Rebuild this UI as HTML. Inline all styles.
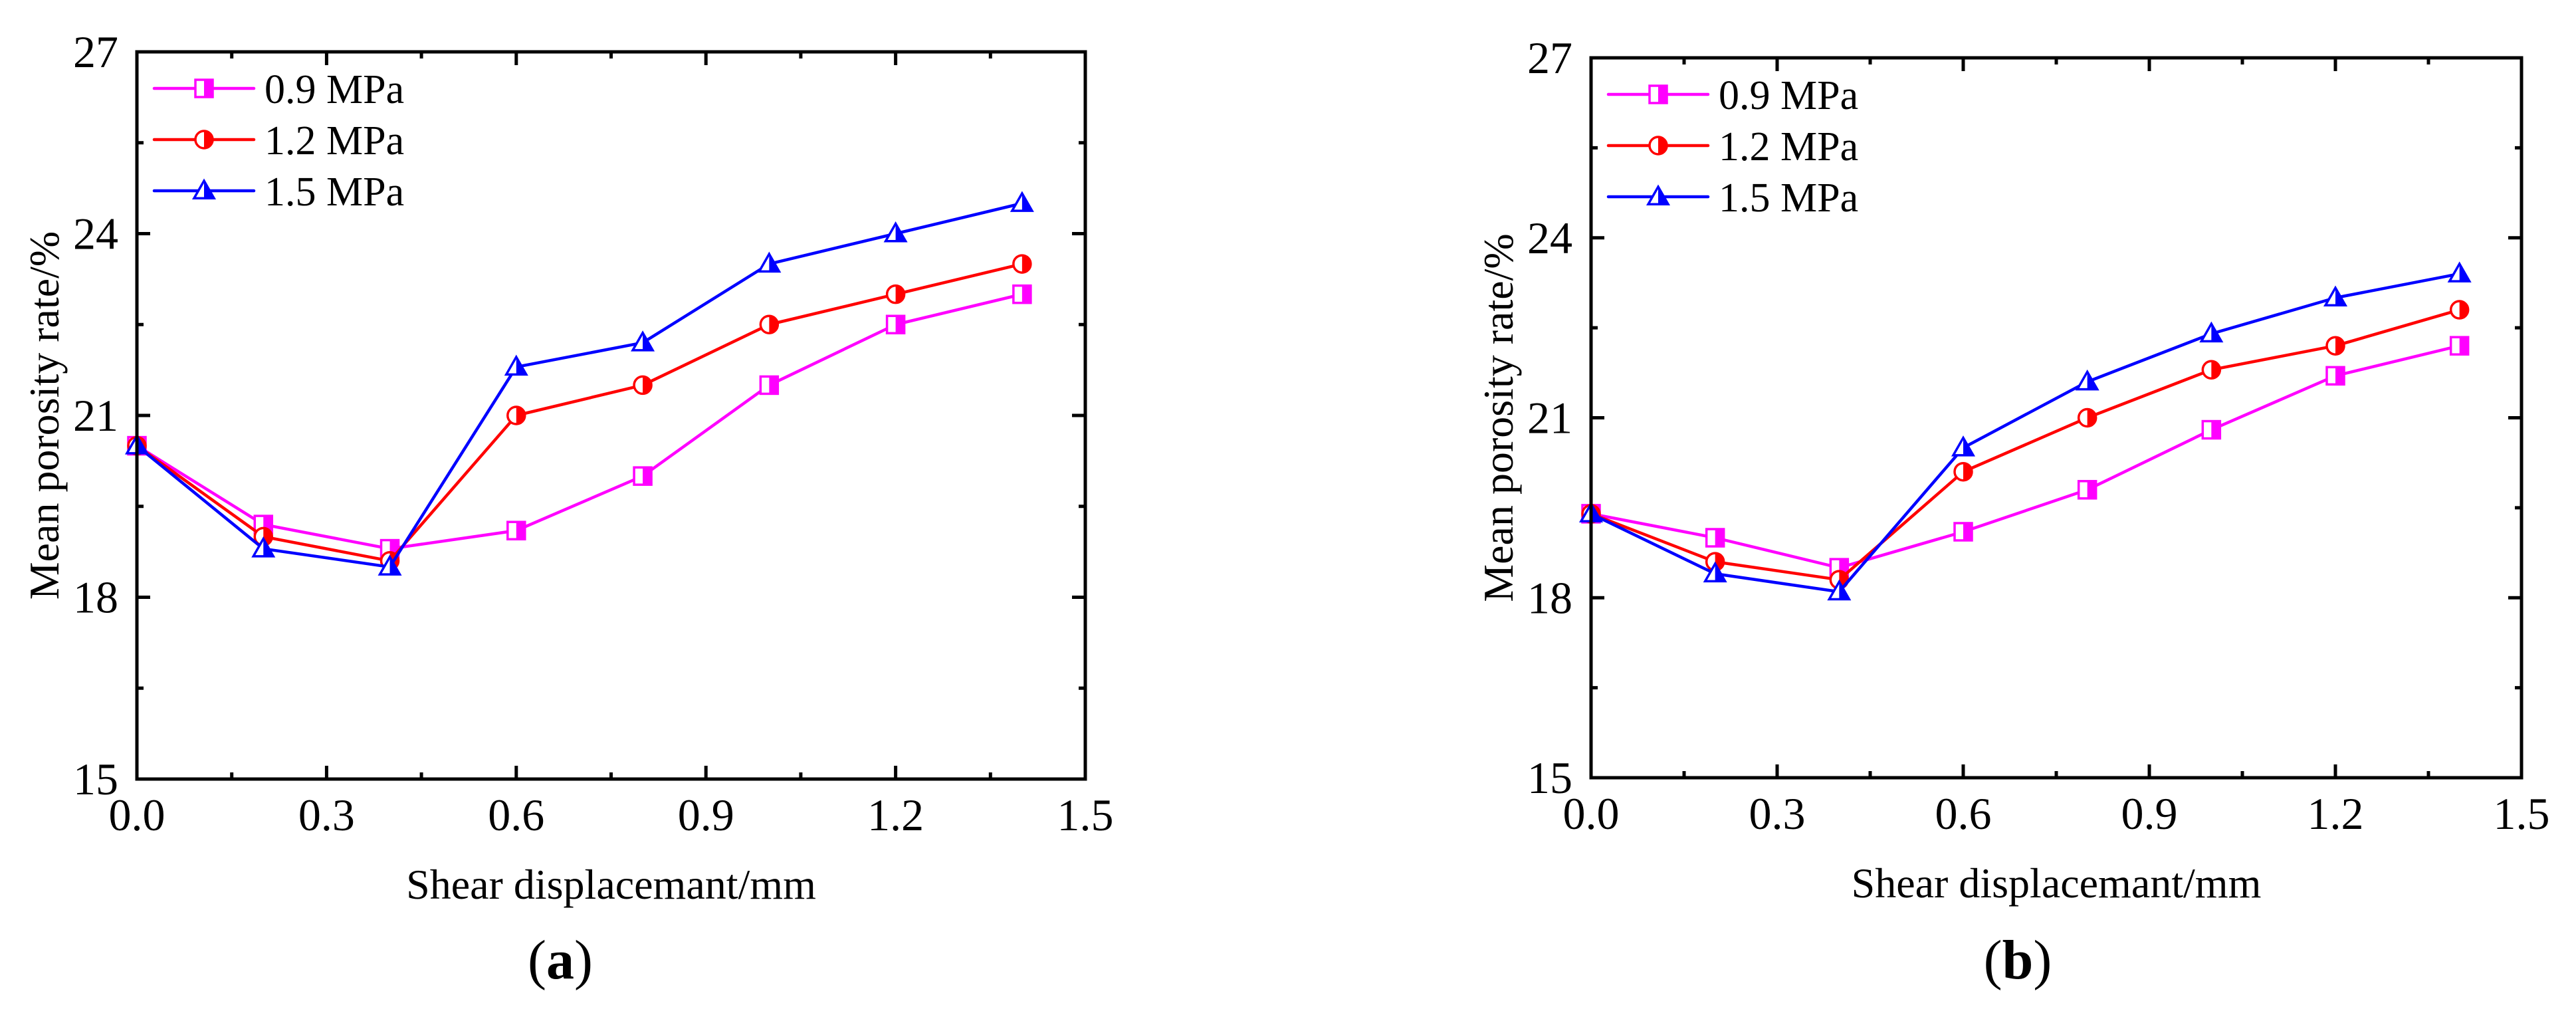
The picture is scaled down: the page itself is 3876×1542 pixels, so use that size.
<!DOCTYPE html>
<html><head><meta charset="utf-8"><style>
html,body{margin:0;padding:0;background:#fff;}
svg{display:block;font-family:"Liberation Serif",serif;}
</style></head><body>
<svg id="fig" xmlns="http://www.w3.org/2000/svg" width="3876" height="1542" viewBox="0 0 3876 1542"></svg>
<script>
const categories = [0, 0.2, 0.4, 0.6, 0.8, 1.0, 1.2, 1.4];
const seriesNames = ["0.9 MPa", "1.2 MPa", "1.5 MPa"];
const a09 = [20.5, 19.2, 18.8, 19.1, 20.0, 21.5, 22.5, 23.0];
const a12 = [20.5, 19.0, 18.6, 21.0, 21.5, 22.5, 23.0, 23.5];
const a15 = [20.5, 18.8, 18.5, 21.8, 22.2, 23.5, 24.0, 24.5];
const b09 = [19.4, 19.0, 18.5, 19.1, 19.8, 20.8, 21.7, 22.2];
const b12 = [19.4, 18.6, 18.3, 20.1, 21.0, 21.8, 22.2, 22.8];
const b15 = [19.4, 18.4, 18.1, 20.5, 21.6, 22.4, 23.0, 23.4];
const xTicks = ["0.0", "0.3", "0.6", "0.9", "1.2", "1.5"];
const yTicks = ["15", "18", "21", "24", "27"];

const NS = "http://www.w3.org/2000/svg";
const svg = document.getElementById('fig');
function mk(tag, attrs, parent, text) {
  const e = document.createElementNS(NS, tag);
  for (const k in attrs) e.setAttribute(k, attrs[k]);
  if (text !== undefined) e.textContent = text;
  (parent || svg).appendChild(e);
  return e;
}
const colors = ["#ff00ff", "#ff0000", "#0000ff"];
const shapes = ["square", "circle", "triangle"];

function marker(g, shape, cx, cy, col, i) {
  const s = 13;
  const m = mk('g', {}, g);
  
  
  if (shape === 'square') {
    mk('rect', {x: cx - s, y: cy - s, width: 2 * s, height: 2 * s, fill: '#fff', stroke: col, 'stroke-width': 3.5}, m);
    mk('rect', {x: cx, y: cy - s, width: s, height: 2 * s, fill: col}, m);
  } else if (shape === 'circle') {
    mk('circle', {cx: cx, cy: cy, r: s, fill: '#fff', stroke: col, 'stroke-width': 3.5}, m);
    mk('path', {d: `M${cx} ${cy - s} A${s} ${s} 0 0 1 ${cx} ${cy + s} Z`, fill: col}, m);
  } else {
    const t = 15;
    mk('path', {d: `M${cx} ${cy - t} L${cx + t} ${cy + t * 0.75} L${cx - t} ${cy + t * 0.75} Z`, fill: '#fff', stroke: col, 'stroke-width': 3.5, 'stroke-linejoin': 'miter'}, m);
    mk('path', {d: `M${cx} ${cy - t} L${cx + t} ${cy + t * 0.75} L${cx} ${cy + t * 0.75} Z`, fill: col}, m);
  }
}

function panel(P) {
  const g = mk('g', {});
  
  
  const X = v => P.l + (v - 0) / 1.5 * (P.r - P.l);
  const Y = v => P.b - (v - 15) / 12 * (P.b - P.t);
  // ticks
  const tk = mk('g', {stroke: '#000', 'stroke-width': 5}, g);
  
  
  for (let i = 0; i <= 10; i++) {
    const v = i * 0.15, x = X(v), L = i % 2 === 0 ? 20 : 10;
    mk('line', {x1: x, y1: P.b, x2: x, y2: P.b - L}, tk);
    mk('line', {x1: x, y1: P.t, x2: x, y2: P.t + L}, tk);
  }
  for (let i = 0; i <= 8; i++) {
    const v = 15 + i * 1.5, y = Y(v), L = i % 2 === 0 ? 20 : 10;
    mk('line', {x1: P.l, y1: y, x2: P.l + L, y2: y}, tk);
    mk('line', {x1: P.r, y1: y, x2: P.r - L, y2: y}, tk);
  }
  // tick labels
  xTicks.forEach((t, i) => {
    const e = mk('text', {x: X(parseFloat(t)), y: P.b + 77, 'font-size': 68, 'text-anchor': 'middle'}, g, t);
    
    
  });
  yTicks.forEach((t, i) => {
    const e = mk('text', {x: P.l - 28, y: Y(parseFloat(t)) + 23, 'font-size': 68, 'text-anchor': 'end'}, g, t);
    
    
  });
  // series
  P.series.forEach((arr, si) => {
    const sg = mk('g', {}, g);
    
    
    const pts = arr.map((v, i) => X(categories[i]) + ',' + Y(v)).join(' ');
    const pl = mk('polyline', {points: pts, fill: 'none', stroke: colors[si], 'stroke-width': 4.5, 'stroke-linejoin': 'round'}, sg);
    
    
    arr.forEach((v, i) => marker(sg, shapes[si], X(categories[i]), Y(v), colors[si], i));
  });
  // frame
  const fr = mk('rect', {x: P.l, y: P.t, width: P.r - P.l, height: P.b - P.t, fill: 'none', stroke: '#000', 'stroke-width': 5}, g);
  
  
  // legend
  const lg = mk('g', {}, g);
  
  
  seriesNames.forEach((n, si) => {
    const y = P.t + 55 + si * 77;
    const en = mk('g', {}, lg);
    
    
    mk('line', {x1: P.l + 26, y1: y, x2: P.l + 176, y2: y, stroke: colors[si], 'stroke-width': 4.5, 'stroke-linecap': 'round'}, en);
    marker(en, shapes[si], P.l + 101, y, colors[si], 'legend');
    mk('text', {x: P.l + 192, y: y + 22, 'font-size': 62}, en, n);
  });
  // axis titles
  const xt = mk('text', {x: (P.l + P.r) / 2, y: P.b + 180, 'font-size': 64, 'text-anchor': 'middle'}, g, 'Shear displacemant/mm');
  
  
  const yc = (P.t + P.b) / 2;
  const yt = mk('text', {x: P.yx, y: yc, 'font-size': 64, 'text-anchor': 'middle', transform: `rotate(-90 ${P.yx} ${yc})`}, g, 'Mean porosity rate/%');
  
  
  const cap = mk('text', {x: P.capx, y: 1472, 'font-size': 84, 'text-anchor': 'middle'}, g);
  
  
  mk('tspan', {}, cap, '(');
  mk('tspan', {'font-weight': 'bold'}, cap, P.cap);
  mk('tspan', {}, cap, ')');
}

panel({name: 'panel-a', l: 206, r: 1633, t: 78, b: 1172, yx: 88, capx: 843, cap: 'a', series: [a09, a12, a15]});
panel({name: 'panel-b', l: 2394, r: 3794, t: 87, b: 1170, yx: 2276, capx: 3036, cap: 'b', series: [b09, b12, b15]});
</script>
</body></html>
